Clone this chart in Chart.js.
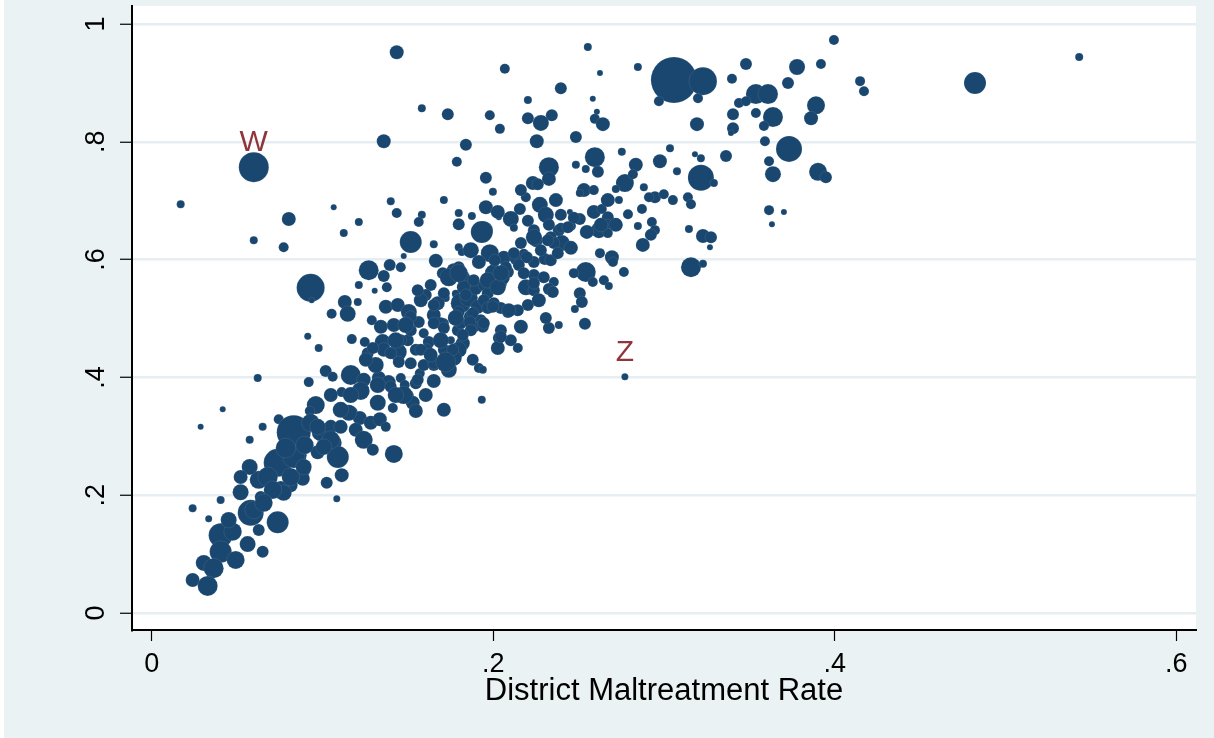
<!DOCTYPE html>
<html>
<head>
<meta charset="utf-8">
<script src="https://cdn.jsdelivr.net/npm/chart.js@4.4.0/dist/chart.umd.min.js"></script>
<style>
  html, body { margin: 0; padding: 0; background: #eaf2f3; }
  #contenedor { width: 1214px; height: 738px; }
</style>
</head>
<body>
<div id="contenedor"><canvas id="grafico" width="1214" height="738"></canvas></div>
<script>
// --- Datos: tasa de maltrato del distrito (x), proporción (y), peso de cada distrito ---
const tasaMaltrato = [
  .1435,.2068,.2554,.2625,.2847,.3058,.3228,.297,.3199,.3193,
  .3995,.348,.3779,.3919,.3398,.3726,.4148,.4171,.4821,.5431,
  .3538,.3609,.3439,.348,.389,.3404,.3538,.3638,.3861,.3404,
  .3585,.3392,.3591,.3732,.3363,.3615,.3638,.3902,.3948,.3615,
  .3702,.3632,.2396,.2203,.2583,.198,.2203,.2343,.2279,.2607,
  .2595,.2642,.2039,.2255,.2484,.2595,.2753,.3035,.2326,.2542,
  .2613,.2835,.2976,.3076,.3181,.3216,.3216,.3292,.1957,.1998,
  .2232,.2326,.2531,.2589,.2771,.2736,.2947,.2999,.3052,.314,
  .3158,.2871,.2789,.1957,.2156,.2273,.2308,.2326,.2396,.2449,
  .2033,.2103,.2203,.2589,.2636,.2671,.2929,.2847,.3146,.3228,
  .3275,.3269,.1945,.2121,.225,.2384,.2455,.2619,.2671,.2402,
  .2548,.2876,.2484,.2261,.2507,.2818,.2718,.2191,.2507,.2947,
  .2923,.2337,.2396,.2671,.2625,.2695,.2701,.2542,.2472,.2583,
  .2648,.2677,.2765,.3158,.3228,.2507,.2519,.2478,.2203,.2074,
  .2132,.2062,.2132,.2179,.2238,.2302,.2238,.2296,.2355,.2191,
  .2238,.2326,.2086,.2045,.2771,.0598,.1582,.1734,.1359,.184,
  .1787,.017,.1066,.14,.1435,.1711,.1582,.1564,.1798,.1798,
  .1875,.1933,.0803,.1125,.1213,.0598,.0773,.1517,.1652,.1798,
  .1816,.1476,.0931,.0937,.1271,.1394,.1459,.1359,.1664,.1705,
  .1769,.1822,.1851,.1213,.1377,.1306,.1634,.191,.1605,.1722,
  .1781,.1131,.1148,.1054,.1207,.1371,.1441,.1506,.1506,.1564,
  .1675,.1652,.1711,.181,.1857,.1869,.1289,.1342,.1418,.0914,
  .0978,.1172,.1248,.1265,.1353,.1359,.1441,.15,.1447,.1593,
  .1623,.1611,.1752,.1822,.1711,.1752,.174,.188,.1916,.1933,
  .1652,.157,.1019,.106,.1166,.1242,.133,.1388,.1459,.092,
  .0621,.1113,.1224,.1324,.14,.1482,.1552,.1652,.1711,.1494,
  .1529,.1547,.1324,.1412,.0961,.0926,.0416,.0744,.0287,.065,
  .0574,.0832,.0931,.099,.1049,.1107,.1166,.1219,.1195,.1283,
  .1336,.1371,.1242,.1295,.1418,.106,.109,.0972,.0855,.0738,
  .0832,.089,.1113,.1025,.1084,.0885,.0814,.0756,.0627,.0574,
  .0521,.068,.0639,.058,.0738,.0404,.024,.0334,.0404,.0475,
  .0562,.0627,.0404,.0492,.0305,.0363,.065,.024,.0328,.0598,
  .0773,.1476,.1547,.2238,.2355,.198,.2121,.2162,.2337,.2378,
  .1828,.1898,.1945,.1968,.2004,.2056,.2349,.1652,.191,.1945,
  .1968,.2004,.2045,.1927,.1886,.1939,.2045,.2162,.2033,.2103,
  .2027,.2144,.2326,.2384,.1939,.1798,.1769,.1693,.1793,.1517,
  .1547,.14,.1295,.1459,.1517,.263,.2537,.2144,.2086,.1998,
  .2472,.2437,.232,.2279,.2197,.215,.2009,.2074,.2179,.2238,
  .1798,.1886,.1711,.184,.1798,.188,.181,.1863,.1945,.1869,
  .1822,.1763,.1558,.1576,.1517,.1652,.1711,.1593,.1652,.2045,
  .2882,.2912,
  .0814,.089,.0709,.0656,.0972,.1049,.1008,.1154,.0521,.0451,
  .0896,.0785,.174,.1798,.1722,.1968,.2027,.2045,.2091,.2238,
  .2027,.1869,.1916,.1781,.1693,.1634,.1488,.1429,.1312,.1254,
  .1576,.1558,.2455,.2718,.2367,.2162,.2671,.2267,.2308,.1166,
  .1429,.1605,.1107,.1049
];

const proporcion = [
  .952,.924,.961,.917,.927,.905,.903,.869,.874,.830,
  .973,.932,.927,.932,.907,.900,.903,.886,.900,.944,
  .881,.881,.866,.869,.862,.847,.849,.842,.840,.823,
  .827,.815,.801,.788,.776,.767,.745,.749,.740,.684,
  .681,.660,.891,.871,.873,.845,.840,.845,.832,.851,
  .839,.830,.822,.801,.808,.774,.783,.789,.757,.754,
  .749,.761,.767,.750,.779,.772,.739,.730,.739,.715,
  .730,.737,.718,.718,.730,.701,.706,.711,.701,.706,
  .694,.686,.677,.689,.686,.693,.676,.659,.676,.681,
  .672,.669,.666,.681,.686,.672,.664,.657,.652,.640,
  .638,.621,.650,.654,.633,.650,.657,.650,.660,.628,
  .647,.625,.761,.728,.713,.745,.720,.706,.669,.650,
  .642,.638,.654,.645,.611,.604,.596,.579,.577,.562,
  .565,.555,.579,.587,.593,.543,.528,.516,.523,.514,
  .514,.603,.601,.610,.596,.601,.574,.570,.562,.553,
  .548,.550,.579,.560,.401,.757,.857,.847,.801,.795,
  .766,.694,.689,.699,.679,.701,.676,.664,.679,.660,
  .674,.647,.669,.645,.664,.633,.621,.630,.626,.621,
  .613,.606,.552,.531,.582,.591,.587,.572,.598,.577,
  .582,.570,.560,.557,.553,.547,.557,.552,.540,.535,
  .542,.528,.508,.508,.528,.520,.523,.511,.497,.494,
  .526,.506,.492,.526,.535,.503,.497,.486,.489,.470,
  .450,.465,.460,.441,.460,.447,.443,.463,.426,.475,
  .460,.447,.463,.458,.447,.430,.413,.430,.416,.362,
  .421,.407,.411,.401,.404,.396,.399,.392,.399,.392,
  .399,.375,.377,.387,.384,.387,.392,.394,.345,.368,
  .357,.343,.357,.348,.353,.343,.346,.329,.316,.316,
  .294,.307,.323,.307,.316,.316,.340,.331,.311,.323,
  .329,.316,.294,.277,.270,.289,.265,.273,.268,.255,
  .265,.243,.234,.221,.194,.228,.217,.209,.226,.248,
  .231,.231,.197,.170,.154,.192,.178,.160,.132,.138,
  .117,.141,.104,.090,.085,.076,.104,.056,.046,.175,
  .204,.370,.390,.650,.628,.611,.611,.628,.599,.611,
  .553,.550,.557,.543,.577,.569,.545,.523,.520,.531,
  .518,.526,.518,.497,.486,.486,.480,.486,.467,.463,
  .450,.450,.484,.489,.413,.447,.433,.492,.480,.424,
  .447,.441,.450,.463,.503,.659,.491,.514,.511,.520,
  .671,.655,.633,.616,.604,.591,.599,.587,.577,.560,
  .587,.565,.543,.540,.511,.509,.492,.494,.492,.480,
  .472,.447,.396,.447,.480,.492,.484,.421,.424,.469,
  .723,.706,
  .231,.248,.209,.187,.316,.294,.282,.340,.205,.158,
  .285,.280,.570,.577,.426,.565,.553,.577,.514,.638,
  .681,.616,.596,.501,.463,.438,.489,.463,.421,.430,
  .531,.548,.620,.659,.701,.718,.701,.531,.501,.370,
  .370,.370,.345,.370
];

const peso = [
  144,64,36,16,36,1936,676,64,64,144,
  64,100,196,64,64,100,64,64,400,36,
  324,324,64,64,256,100,64,324,144,100,
  64,16,64,576,100,64,196,256,100,64,
  16,16,100,36,16,64,100,100,196,16,
  64,144,64,144,100,324,36,36,324,36,
  100,144,144,36,16,36,576,36,100,36,
  144,144,144,64,256,36,100,64,64,64,
  64,64,64,144,100,196,196,100,100,16,
  16,196,100,144,64,100,64,36,36,144,
  100,16,256,36,144,100,64,196,64,196,
  144,144,36,100,36,64,36,64,100,64,
  100,100,64,64,64,144,64,324,64,64,
  64,36,64,324,36,100,100,36,100,64,
  64,144,100,64,100,100,100,100,64,196,
  100,100,100,100,25,784,36,100,144,100,
  64,36,16,36,64,36,36,64,36,100,
  36,400,144,36,36,36,64,400,36,36,
  36,16,676,16,324,100,64,100,144,100,
  144,144,196,36,64,16,100,64,100,36,
  36,144,196,64,36,144,144,196,100,100,
  144,144,64,324,256,144,64,144,144,25,
  36,64,64,100,196,144,256,100,100,64,
  100,100,36,144,100,144,196,100,64,36,
  100,64,100,64,324,144,144,144,64,64,
  36,64,256,196,100,64,36,144,144,144,
  144,144,196,64,256,64,16,64,16,36,
  36,1024,256,256,144,144,144,144,144,144,
  144,64,256,100,256,256,400,144,256,676,
  400,144,144,100,25,144,144,256,256,196,
  144,324,100,576,400,36,36,25,484,256,
  196,100,400,256,196,324,100,144,324,256,
  196,256,100,100,100,256,100,100,100,100,
  144,100,100,100,256,144,100,100,144,100,
  100,100,100,100,100,100,100,144,100,100,
  144,64,100,36,36,196,196,100,100,100,
  100,100,100,100,100,144,100,100,100,100,
  100,100,100,100,100,100,100,100,100,100,
  100,100,100,100,100,100,100,100,100,100,
  100,100,100,100,100,100,100,100,100,100,
  36,64,
  256,196,256,256,196,256,196,196,196,196,
  256,324,256,256,324,196,196,196,144,196,
  144,196,144,196,196,144,196,196,196,144,
  144,100,144,144,144,100,144,144,100,196,
  196,144,196,144
];

// Distritos marcados con etiqueta
const etiquetas = ['W', 'Z'];
const etiquetaX = [0.0598, 0.2771];
const etiquetaY = [0.757, 0.401];

// Ejes
const ticksX = [0, 0.2, 0.4, 0.6];
const textoTicksX = ['0', '.2', '.4', '.6'];
const ticksY = [0, 0.2, 0.4, 0.6, 0.8, 1];
const textoTicksY = ['0', '.2', '.4', '.6', '.8', '1'];
const tituloX = 'District Maltreatment Rate';

const fuente = '"Liberation Sans", Arial, sans-serif';
const colorFondo = '#eaf2f3';
const colorPuntos = '#1a476f';
const colorEtiqueta = '#90353b';

// Construir los puntos para Chart.js (r = radio en px a partir del peso)
const puntos = tasaMaltrato.map((x, i) => ({ x: x, y: proporcion[i], r: Math.sqrt(peso[i]) / 2 + 1 }));

// Plugin: fondo exterior y área de trazado blanca
const pluginFondo = {
    id: 'fondo',
    beforeDraw: (chart) => {
        const ctx = chart.ctx;
        const a = chart.chartArea;
        ctx.save();
        ctx.fillStyle = colorFondo;
        ctx.fillRect(0, 0, chart.width, chart.height);
        ctx.fillStyle = '#ffffff';
        ctx.fillRect(0, 0, 4, chart.height);
        ctx.fillRect(a.left, a.top, a.right - a.left, a.bottom - a.top);
        ctx.restore();
    }
};

// Plugin: etiquetas del eje Y giradas y etiquetas W / Z
const pluginTextos = {
    id: 'textos',
    afterDraw: (chart) => {
        const ctx = chart.ctx;
        const ejeX = chart.scales.x;
        const ejeY = chart.scales.y;
        ctx.save();
        ctx.fillStyle = '#000';
        ctx.font = '27px ' + fuente;
        ctx.textAlign = 'center';
        ctx.textBaseline = 'alphabetic';
        ticksY.forEach((v, i) => {
            const py = ejeY.getPixelForValue(v);
            ctx.save();
            ctx.translate(104, py);
            ctx.rotate(-Math.PI / 2);
            ctx.fillText(textoTicksY[i], 0, 0);
            ctx.restore();
        });

        ctx.fillStyle = colorEtiqueta;
        ctx.font = '30px ' + fuente;
        etiquetas.forEach((t, i) => {
            const px = ejeX.getPixelForValue(etiquetaX[i]);
            const py = ejeY.getPixelForValue(etiquetaY[i]);
            ctx.fillText(t, px, py - 16);
        });
        ctx.restore();
    }
};

const ctx = document.getElementById('grafico').getContext('2d');

const grafico = new Chart(ctx, {
    type: 'bubble',
    data: {
        datasets: [{
            data: puntos,
            backgroundColor: colorPuntos,
            borderColor: 'rgba(225,235,242,0.25)',
            borderWidth: 0.4
        }]
    },
    options: {
        responsive: false,
        animation: false,
        events: [],
        layout: { autoPadding: false, padding: { top: 6, right: 18, left: 0, bottom: 0 } },
        plugins: {
            legend: { display: false },
            tooltip: { enabled: false }
        },
        scales: {
            x: {
                type: 'linear',
                min: -0.0115,
                max: 0.6115,
                afterBuildTicks: (s) => { s.ticks = ticksX.map(v => ({ value: v })); },
                afterFit: (s) => { s.height = 108; },
                ticks: {
                    callback: (v, i) => textoTicksX[i],
                    font: { family: fuente, size: 27 },
                    color: '#000',
                    padding: 7,
                    maxRotation: 0
                },
                grid: { drawOnChartArea: false, tickColor: '#000', tickLength: 11, tickWidth: 1.2 },
                border: { color: '#000', width: 2 },
                title: {
                    display: true,
                    text: tituloX,
                    font: { family: fuente, size: 31 },
                    color: '#000',
                    padding: { top: 0, bottom: 28 }
                }
            },
            y: {
                type: 'linear',
                min: -0.0289,
                max: 1.0306,
                afterBuildTicks: (s) => { s.ticks = ticksY.map(v => ({ value: v })); },
                afterFit: (s) => { s.width = 132; },
                ticks: { display: false },
                grid: { color: '#e6eef1', lineWidth: 2.5, tickColor: '#000', tickLength: 12, tickWidth: 1.2 },
                border: { color: '#000', width: 2 }
            }
        }
    },
    plugins: [pluginFondo, pluginTextos]
});
</script>
</body>
</html>
